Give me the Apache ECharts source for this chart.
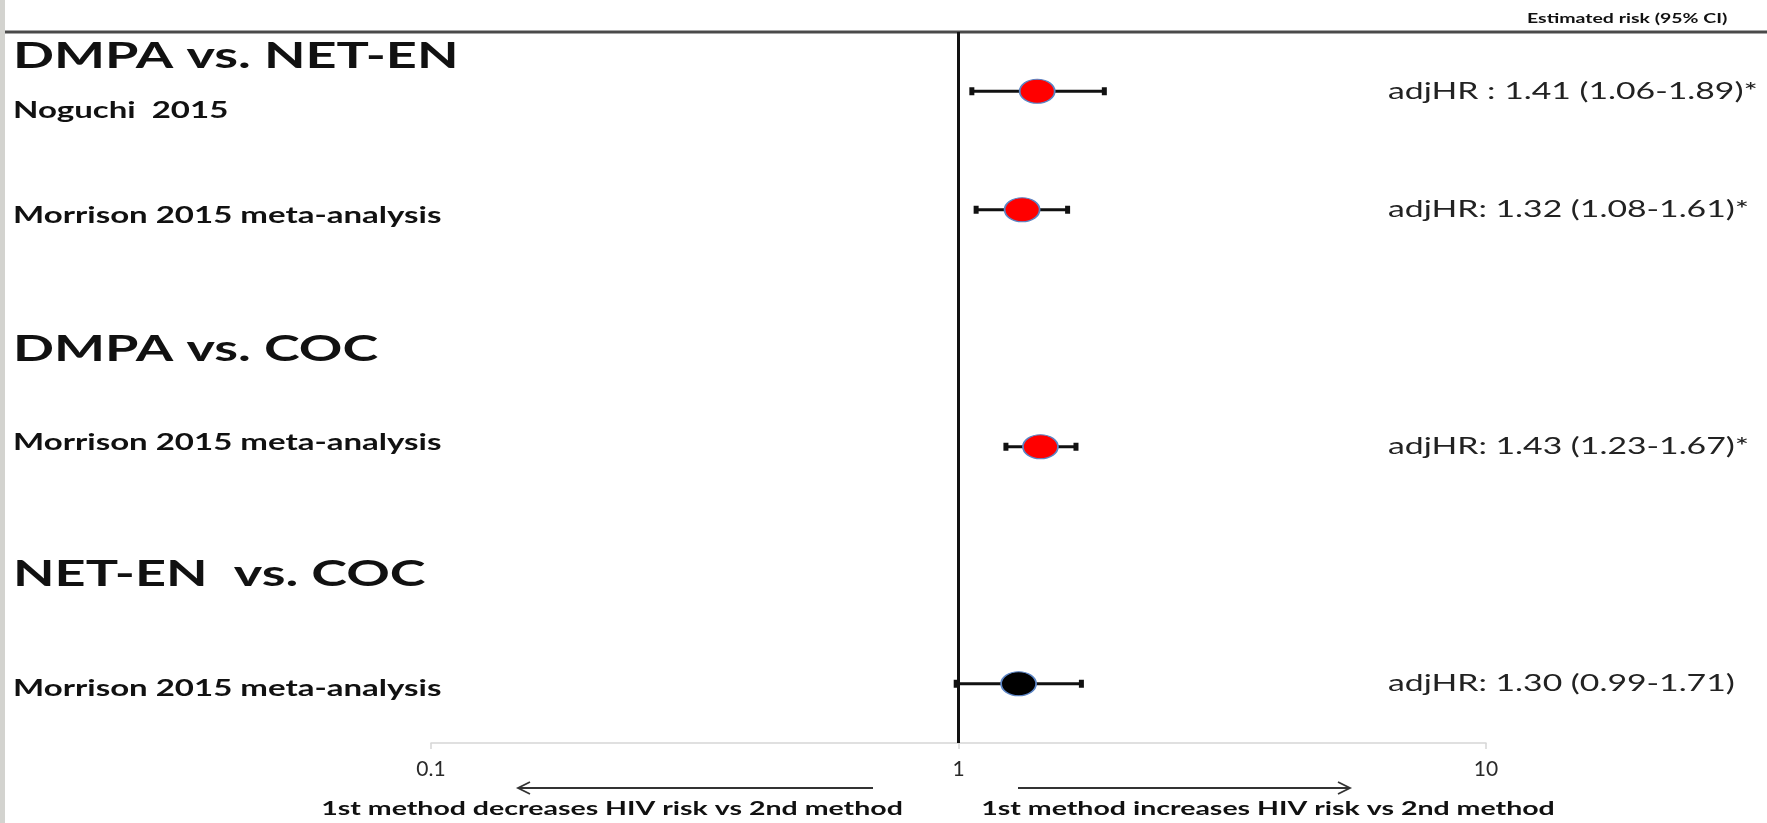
<!DOCTYPE html>
<html>
<head>
<meta charset="utf-8">
<script src="https://cdn.jsdelivr.net/npm/echarts@6/dist/echarts.min.js"></script>
<style>
  html, body { margin: 0; background: #fff; }
  #chart { width: 1767px; height: 823px; }
</style>
</head>
<body>
<div id="chart"></div>
<script>
const groups = ['DMPA vs. NET-EN', 'DMPA vs. COC', 'NET-EN  vs. COC']
const studies = ['Noguchi  2015', 'Morrison 2015 meta-analysis', 'Morrison 2015 meta-analysis', 'Morrison 2015 meta-analysis']
const hr = [1.41, 1.32, 1.43, 1.30]
const ciLow = [1.06, 1.08, 1.23, 0.99]
const ciHigh = [1.89, 1.61, 1.67, 1.71]
const estimates = ['adjHR : 1.41 (1.06-1.89)*', 'adjHR: 1.32 (1.08-1.61)*', 'adjHR: 1.43 (1.23-1.67)*', 'adjHR: 1.30 (0.99-1.71)']
const significant = [true, true, true, false]
const xTicks = [0.1, 1, 10]

// layout only: where rows / headings sit on the hidden y axis
const rowSlot = [0, 1, 3, 5]
const labelSlot = [0.17, 1.05, 2.97, 5.04]
const headingSlot = [-0.29, 2.18, 4.08]

// the original slide is stretched sideways, text is widened to match
const STRETCH = 1.5
const FONT = 'Lato, "Open Sans", sans-serif'
const INK = '#111'

const chart = echarts.init(document.getElementById('chart'))

function buildOption() {
  return {
    backgroundColor: '#fff',
    animation: false,
    grid: { left: 431, right: 281, top: 32, bottom: 80 },
    xAxis: {
      type: 'log',
      logBase: 10,
      min: xTicks[0],
      max: xTicks[xTicks.length - 1],
      axisLine: { show: true, onZero: false, lineStyle: { color: '#d6d6d6', width: 1.5 } },
      axisTick: { show: true, inside: false, length: 6, lineStyle: { color: '#d6d6d6', width: 1.5 } },
      minorTick: { show: false },
      splitLine: { show: false },
      axisLabel: { color: '#2a2a2a', fontSize: 21, fontFamily: FONT, margin: 16 },
    },
    yAxis: {
      type: 'value',
      inverse: true,
      min: -0.5,
      max: 5.5,
      show: false,
    },
    series: [
      {
        name: 'ci',
        type: 'custom',
        silent: true,
        data: hr.map((_, i) => [ciLow[i], ciHigh[i], rowSlot[i]]),
        encode: { x: [0, 1], y: 2 },
        renderItem(params, api) {
          const a = api.coord([api.value(0), api.value(2)])
          const b = api.coord([api.value(1), api.value(2)])
          const capStyle = { stroke: INK, lineWidth: 5 }
          return {
            type: 'group',
            children: [
              { type: 'line', shape: { x1: a[0], y1: a[1], x2: b[0], y2: b[1] }, style: { stroke: INK, lineWidth: 3 } },
              { type: 'line', shape: { x1: a[0], y1: a[1] - 4, x2: a[0], y2: a[1] + 4 }, style: capStyle },
              { type: 'line', shape: { x1: b[0], y1: b[1] - 4, x2: b[0], y2: b[1] + 4 }, style: capStyle },
            ],
          }
        },
        z: 2,
      },
      {
        name: 'hr',
        type: 'scatter',
        symbol: 'circle',
        symbolSize: [35, 24],
        data: hr.map((v, i) => ({
          value: [v, rowSlot[i]],
          itemStyle: { color: significant[i] ? '#ff0000' : '#000', borderColor: '#5b84c4', borderWidth: 1.5, opacity: 1 },
        })),
        markLine: {
          silent: true,
          symbol: 'none',
          label: { show: false },
          lineStyle: { color: INK, width: 3, type: 'solid' },
          data: [{ xAxis: 1 }],
        },
        z: 3,
      },
    ],
  }
}

chart.setOption(buildOption())

function yOf(slot) {
  return chart.convertToPixel({ yAxisIndex: 0 }, slot)
}

function txt(x, y, text, size, weight, align, color) {
  return {
    type: 'text',
    x, y,
    scaleX: STRETCH,
    silent: true,
    style: {
      text,
      fontSize: size,
      fontWeight: weight,
      fontFamily: FONT,
      fill: color || INK,
      align: align || 'left',
      verticalAlign: 'middle',
    },
  }
}

function arrow(x1, x2, y) {
  const dir = x2 > x1 ? 1 : -1
  const head = 12
  return [
    { type: 'line', silent: true, shape: { x1, y1: y, x2, y2: y }, style: { stroke: '#333', lineWidth: 1.8 } },
    { type: 'polyline', silent: true, shape: { points: [[x2 - dir * head, y - 6], [x2, y], [x2 - dir * head, y + 6]] }, style: { stroke: '#333', lineWidth: 1.8, fill: 'none' } },
  ]
}

const gfx = [
  { type: 'rect', silent: true, shape: { x: 0, y: 0, width: 5, height: 823 }, style: { fill: '#d3d3cf' } },
  { type: 'line', silent: true, shape: { x1: 5, y1: 32, x2: 1767, y2: 32 }, style: { stroke: '#4a4a4a', lineWidth: 3 } },
  txt(1527, 19, 'Estimated risk (95% CI)', 13, 'bold'),
]

groups.forEach((g, i) => gfx.push(txt(13, yOf(headingSlot[i]), g, 36, 'bold')))
studies.forEach((s, i) => gfx.push(txt(13, yOf(labelSlot[i]), s, 22, 'bold')))
estimates.forEach((e, i) => gfx.push(txt(1388, yOf(rowSlot[i]), e, 22.5, 'normal', 'left', '#222')))

gfx.push(...arrow(873, 518, 788), ...arrow(1018, 1350, 788))
gfx.push(txt(612, 809, '1st method decreases HIV risk vs 2nd method', 19, 'bold', 'center'))
gfx.push(txt(1268, 809, '1st method increases HIV risk vs 2nd method', 19, 'bold', 'center'))

chart.setOption({ graphic: { elements: gfx } })
</script>
</body>
</html>
